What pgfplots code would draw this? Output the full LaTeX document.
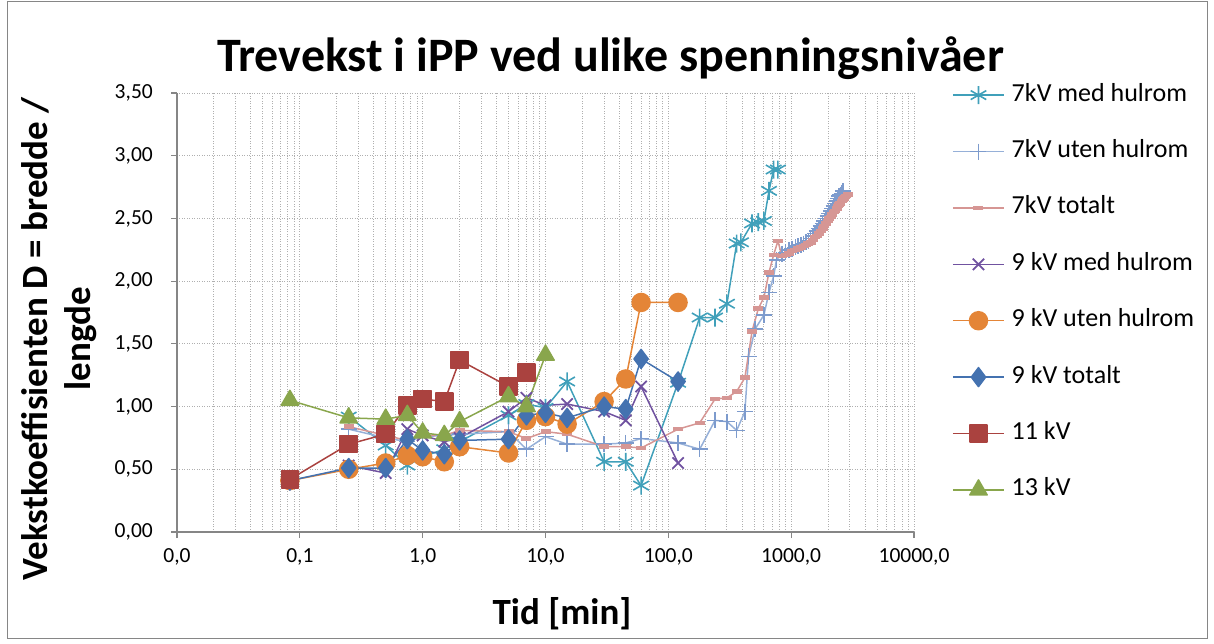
\documentclass[border=0pt]{standalone}
\usepackage{fontspec}
\setmainfont{Carlito}
\usepackage{pgfplots}
\pgfplotsset{compat=1.18}

\definecolor{axgray}{RGB}{134,134,134}
\definecolor{gridgray}{RGB}{175,175,175}
\definecolor{cTeal}{RGB}{64,160,186}
\definecolor{cLblue}{RGB}{150,176,216}
\definecolor{cLbluem}{RGB}{125,155,205}
\definecolor{cPink}{RGB}{214,150,148}
\definecolor{cPurple}{RGB}{112,82,160}
\definecolor{cOrange}{RGB}{228,133,55}
\definecolor{cBlue}{RGB}{68,114,176}
\definecolor{cRed}{RGB}{170,66,63}
\definecolor{cGreen}{RGB}{137,166,76}

\begin{document}
\begin{tikzpicture}
\useasboundingbox (0pt,0pt) rectangle (1214pt,-644pt);
\draw[axgray, line width=1pt] (7pt,-2pt) rectangle (1207pt,-638pt);
\node[anchor=base, font=\fontsize{48}{54}\selectfont\bfseries] at (610.5pt,-71.7pt)
  {Trevekst i iPP ved ulike spenningsnivåer};

\begin{axis}[
  at={(177pt,-532pt)}, anchor=south west,
  scale only axis, width=737pt, height=439pt,
  xmode=log, log basis x=10,
  xmin=0.01, xmax=10000, ymin=0, ymax=3.5,
  xtick={0.01,0.1,1,10,100,1000,10000},
  xticklabels={{0,0},{0,1},{1,0},{10,0},{100,0},{1000,0},{10000,0}},
  minor xtick={0.02,0.03,0.04,0.05,0.06,0.07,0.08,0.09,
               0.2,0.3,0.4,0.5,0.6,0.7,0.8,0.9,
               2,3,4,5,6,7,8,9,20,30,40,50,60,70,80,90,
               200,300,400,500,600,700,800,900,
               2000,3000,4000,5000,6000,7000,8000,9000},
  ytick={0,0.5,1,1.5,2,2.5,3,3.5},
  yticklabel style={/pgf/number format/fixed, /pgf/number format/fixed zerofill,
    /pgf/number format/precision=2, /pgf/number format/use comma},
  /pgf/number format/assume math mode=true,
  axis x line*=bottom, axis y line*=left,
  axis line style={axgray, line width=1.2pt},
  tick align=outside, major tick length=6pt, minor tick length=0pt,
  tick style={axgray, line width=1.2pt},
  ymajorgrids, xmajorgrids, xminorgrids,
  major grid style={gridgray, line width=1pt, dash pattern=on 1pt off 1.5pt},
  minor grid style={gridgray, line width=1pt, dash pattern=on 1pt off 1.5pt},
  ticklabel style={font=\fontsize{21.5}{25}\selectfont},
  yticklabel style={inner sep=0pt, xshift=-18pt},
  xticklabel style={inner sep=0pt, yshift=-10pt},
  xlabel={Tid [min]},
  ylabel={Vekstkoeffisienten D = bredde /\\lengde},
  every axis x label/.style={at={(axis description cs:0.5224,-0.187)}, anchor=center,
    font=\fontsize{37}{44}\selectfont\bfseries},
  every axis y label/.style={at={(axis description cs:-0.16,0.44)}, anchor=center,
    rotate=90, align=center, font=\fontsize{37}{43}\selectfont\bfseries},
  legend style={at={(axis description cs:1.0516,1.023)}, anchor=north west,
    draw=none, fill=none, inner sep=0pt,
    font=\fontsize{26}{30}\selectfont,
    nodes={inner sep=0pt, text height=18pt, text depth=6pt},
    row sep=32.4pt, column sep=7pt},
  legend cell align=left,
  legend image code/.code={\draw[mark repeat=2,mark phase=2] plot coordinates {(0pt,0pt)(25.5pt,0pt)(51pt,0pt)};},
  every axis plot/.append style={line width=1.5pt, line join=round},
]

% 7kV med hulrom
\addplot[cTeal, mark=asterisk, mark size=9pt, mark options={line width=1.6pt}] coordinates {
 (0.25,0.92)(0.5,0.69)(0.75,0.53)(1,0.60)(1.5,0.66)(2,0.72)(5,0.93)(7,1.02)(10,0.99)
 (15,1.20)(30,0.56)(45,0.56)(60,0.37)(120,1.19)(180,1.71)(240,1.71)(300,1.82)
 (360,2.30)(390,2.31)(480,2.46)(540,2.47)(600,2.48)(660,2.72)(720,2.89)(780,2.89)};
\addlegendentry{7kV med hulrom}

% 7kV uten hulrom
\addplot[cLblue, mark=+, mark size=8pt, mark options={cLbluem, line width=1.5pt}] coordinates {
 (0.25,0.82)(0.5,0.75)(0.75,0.72)(1,0.76)(1.5,0.77)(2,0.78)(5,0.80)(7,0.66)(10,0.76)
 (15,0.70)(30,0.70)(45,0.71)(60,0.745)(120,0.71)(180,0.66)(240,0.89)(300,0.88)
 (360,0.81)(420,0.96)(450,1.40)(510,1.62)(600,1.73)(660,1.91)(720,2.04)(760,2.17)
 (840,2.22)(900,2.23)(960,2.25)(1020,2.26)(1080,2.27)(1140,2.28)(1200,2.29)(1260,2.30)
 (1320,2.31)(1380,2.32)(1440,2.34)(1500,2.36)(1560,2.38)(1620,2.40)(1680,2.42)
 (1740,2.44)(1800,2.46)(1860,2.48)(1920,2.50)(1980,2.52)(2040,2.54)(2100,2.56)
 (2160,2.58)(2220,2.60)(2280,2.62)(2340,2.64)(2400,2.66)(2460,2.68)(2520,2.69)
 (2580,2.70)(2640,2.72)};
\addlegendentry{7kV uten hulrom}

% 7kV totalt
\addplot[cPink, mark=-, mark size=5pt, mark options={line width=4.5pt}] coordinates {
 (0.25,0.84)(0.5,0.77)(0.75,0.73)(1,0.77)(1.5,0.77)(2,0.81)(5,0.80)(7,0.745)(10,0.80)
 (15,0.78)(30,0.68)(45,0.68)(60,0.67)(120,0.82)(180,0.87)(240,1.06)(300,1.07)
 (360,1.12)(420,1.23)(480,1.60)(540,1.78)(600,1.87)(660,2.07)(720,2.21)(780,2.32)
 (840,2.20)(900,2.21)(960,2.22)(1020,2.24)(1080,2.25)(1140,2.26)(1200,2.27)(1260,2.28)
 (1320,2.29)(1380,2.30)(1440,2.31)(1500,2.33)(1560,2.35)(1620,2.36)(1680,2.38)
 (1740,2.40)(1800,2.42)(1860,2.44)(1920,2.46)(1980,2.48)(2040,2.50)(2100,2.51)
 (2160,2.53)(2220,2.55)(2280,2.56)(2340,2.58)(2400,2.60)(2460,2.61)(2520,2.62)
 (2580,2.64)(2640,2.65)(2700,2.66)(2760,2.67)(2820,2.68)(2880,2.69)};
\addlegendentry{7kV totalt}

% 9 kV med hulrom
\addplot[cPurple, mark=x, mark size=8pt, mark options={line width=1.8pt}] coordinates {
 (0.25,0.53)(0.5,0.47)(0.75,0.82)(1,0.77)(1.5,0.72)(2,0.75)(5,0.96)(7,1.07)(10,1.01)
 (15,1.02)(30,0.96)(45,0.89)(60,1.16)(120,0.55)};
\addlegendentry{9 kV med hulrom}

% 9 kV uten hulrom
\addplot[cOrange, mark=*, mark size=9pt] coordinates {
 (0.083,0.41)(0.25,0.50)(0.5,0.55)(0.75,0.61)(1,0.60)(1.5,0.56)(2,0.68)(5,0.63)
 (7,0.89)(10,0.92)(15,0.86)(30,1.04)(45,1.22)(60,1.83)(120,1.83)};
\addlegendentry{9 kV uten hulrom}

% 9 kV totalt
\addplot[cBlue, mark=diamond*, mark size=9.5pt] coordinates {
 (0.083,0.41)(0.25,0.51)(0.5,0.51)(0.75,0.74)(1,0.65)(1.5,0.62)(2,0.73)(5,0.74)
 (7,0.93)(10,0.95)(15,0.91)(30,1.00)(45,0.98)(60,1.38)(120,1.20)};
\addlegendentry{9 kV totalt}

% 11 kV
\addplot[cRed, mark=square*, mark size=8.5pt] coordinates {
 (0.083,0.42)(0.25,0.70)(0.5,0.78)(0.75,1.01)(1,1.06)(1.5,1.04)(2,1.37)(5,1.16)(7,1.27)};
\addlegendentry{11 kV}

% 13 kV
\addplot[cGreen, mark=triangle*, mark size=10pt] coordinates {
 (0.083,1.05)(0.25,0.91)(0.5,0.90)(0.75,0.93)(1,0.79)(1.5,0.77)(2,0.88)(5,1.08)
 (7,1.00)(10,1.41)};
\addlegendentry{13 kV}

\end{axis}
\end{tikzpicture}
\end{document}
